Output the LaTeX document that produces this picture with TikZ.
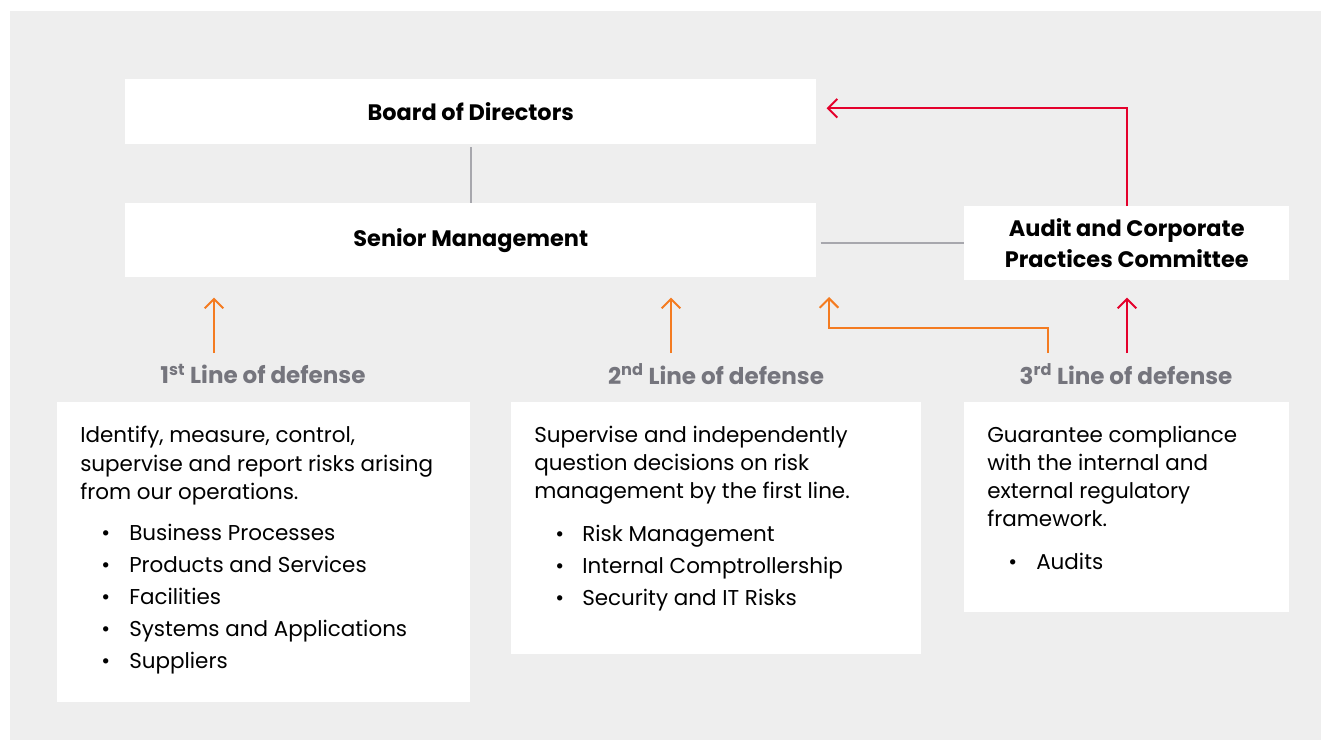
\documentclass[tikz,border=0pt]{standalone}
\usepackage{fontspec}
\setmainfont{Poppins}
\usetikzlibrary{arrows.meta}
\definecolor{bg}{HTML}{EEEEEE}
\definecolor{org}{HTML}{F47B20}
\definecolor{rd}{HTML}{E4002B}
\definecolor{ln}{HTML}{A7A7AD}
\definecolor{lblc}{HTML}{75757D}
\begin{document}
\begin{tikzpicture}[x=0.75pt,y=-0.75pt,
  box/.style={fill=white, draw=none, inner sep=0pt, anchor=north west, align=center,
    font=\bfseries\fontsize{16.8}{23.25}\selectfont},
  lbl/.style={font=\bfseries\fontsize{17.3}{18}\selectfont, text=lblc, inner sep=0pt},
  body/.style={font=\fontsize{16.1}{21}\selectfont, anchor=base west, inner sep=0pt},
  conn/.style={draw=ln, line width=1.5pt},
  arr/.style={line width=1.5pt, -{Straight Barb[length=7pt,width=14pt,line width=1.5pt]}},
]
\useasboundingbox (0,0) rectangle (1321,740);
\fill[bg] (10,11) rectangle (1321,740);

% top boxes
\node[box, minimum width=518.25pt, minimum height=48.75pt] (board) at (125,79) {Board of Directors};
\node[box, minimum width=518.25pt, minimum height=55.5pt] (senior) at (125,203) {Senior Management};
\node[box, minimum width=243.75pt, minimum height=55.5pt] (audit) at (964,206) {Audit and Corporate\\Practices Committee};

% lower boxes
\node[box, minimum width=309.75pt, minimum height=225pt] (box1) at (57,402) {};
\node[box, minimum width=307.5pt, minimum height=189pt] (box2) at (511,402) {};
\node[box, minimum width=243.75pt, minimum height=157.5pt] (box3) at (964,402) {};

% labels
\node[lbl] (l1) at (263,374) {1\textsuperscript{st} Line of defense};
\node[lbl] (l2) at (716,374) {2\textsuperscript{nd} Line of defense};
\node[lbl] (l3) at (1126,374) {3\textsuperscript{rd} Line of defense};

% gray connectors
\draw[conn] ([yshift=-2pt]board.south -| 471,0) -- (senior.north -| 471,0);
\draw[conn] ([xshift=3pt]audit.west -| senior.east) -- (audit.west);

% red connectors
\draw[arr, rd] (audit.north -| 1127,0) |- ([shift={(10,-3.5)}]board.east);
\coordinate (b4) at (1127,353);
\draw[arr, rd, shorten >=12.75pt] (b4) -- (b4 |- audit.south);

% orange connectors
\coordinate (b1) at (214,353);
\coordinate (b2) at (671,353);
\coordinate (b3) at (1048,353);
\coordinate (k3) at (1048,328);
\coordinate (t3) at (829,297);
\draw[arr, org, shorten >=15pt] (b1) -- (b1 |- senior.south);
\draw[arr, org, shorten >=15pt] (b2) -- (b2 |- senior.south);
\draw[arr, org] (b3) -- (k3) -| (t3);

% box 1 text
\foreach \y/\t in {442/{Identify, measure, control,}, 471/{supervise and report risks arising}, 499/{from our operations.}}
  \node[body] at (80,\y) {\t};
\foreach \y/\t in {540/{Business Processes}, 572/{Products and Services}, 604/{Facilities}, 636/{Systems and Applications}, 668/{Suppliers}}{
  \node[body] at (101,\y) {\textbullet};
  \node[body] at (129,\y) {\t};
}
% box 2 text
\foreach \y/\t in {442/{Supervise and independently}, 470/{question decisions on risk}, 498/{management by the first line.}}
  \node[body] at (534,\y) {\t};
\foreach \y/\t in {541/{Risk Management}, 573/{Internal Comptrollership}, 605/{Security and IT Risks}}{
  \node[body] at (555,\y) {\textbullet};
  \node[body] at (582,\y) {\t};
}
% box 3 text
\foreach \y/\t in {442/{Guarantee compliance}, 470/{with the internal and}, 498/{external regulatory}, 526/{framework.}}
  \node[body] at (987,\y) {\t};
\node[body] at (1008,569) {\textbullet};
\node[body] at (1036,569) {Audits};
\end{tikzpicture}
\end{document}
